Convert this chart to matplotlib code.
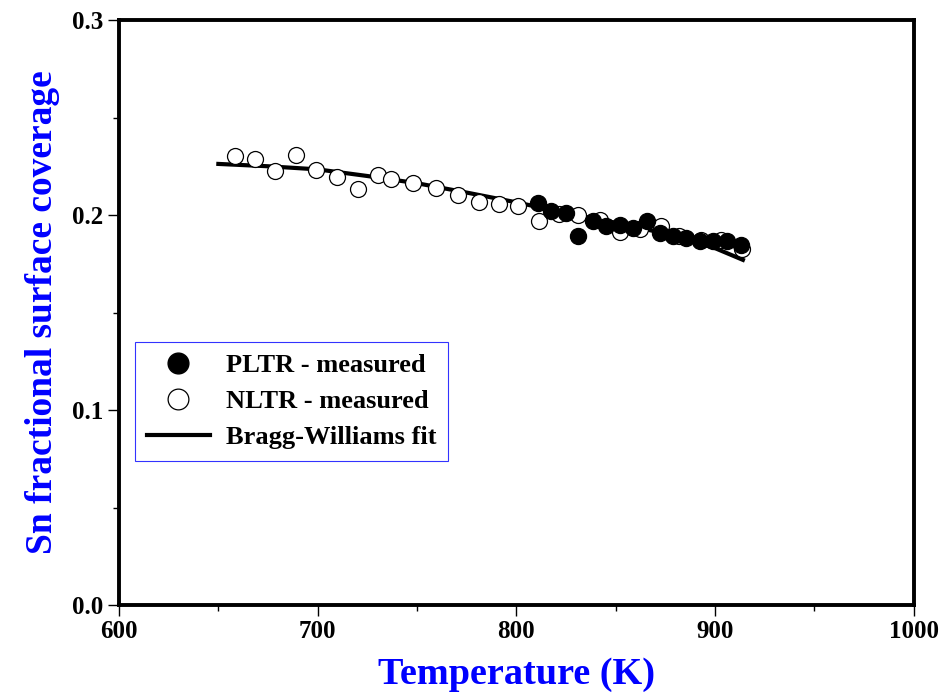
import matplotlib
matplotlib.use("Agg")
import matplotlib.pyplot as plt
from matplotlib.ticker import MultipleLocator

# PLTR - measured (filled)
pltr_T = [810.8, 817.4, 824.9, 831.0, 838.5, 845.0, 852.0, 858.6, 865.7,
          872.2, 878.7, 885.3, 892.3, 898.9, 905.9, 913.0]
pltr_cov = [0.2062, 0.2021, 0.2010, 0.1892, 0.1969, 0.1944, 0.1949, 0.1933,
            0.1969, 0.1908, 0.1892, 0.1882, 0.1867, 0.1867, 0.1867, 0.1846]

# NLTR - measured (open)
nltr_T = [658.4, 668.4, 678.5, 689.0, 699.0, 709.7, 720.3, 730.3, 736.9,
          747.9, 759.5, 770.6, 781.1, 791.2, 800.8, 811.3, 821.4, 831.2,
          842.0, 852.0, 862.0, 872.7, 882.0, 893.0, 903.0, 913.5]
nltr_cov = [0.2303, 0.2287, 0.2226, 0.2308, 0.2231, 0.2195, 0.2133, 0.2205,
            0.2185, 0.2164, 0.2138, 0.2103, 0.2067, 0.2056, 0.2046, 0.1969,
            0.2005, 0.2000, 0.1974, 0.1913, 0.1930, 0.1944, 0.1890, 0.1870,
            0.1870, 0.1825]

# Bragg-Williams fit
fit_T = [650, 675, 700, 725, 750, 775, 800, 825, 850, 875, 900, 914]
fit_cov = [0.2262, 0.2250, 0.2234, 0.2200, 0.2163, 0.2115, 0.2065, 0.2010,
           0.1960, 0.1905, 0.1830, 0.1770]

plt.rcParams['font.family'] = ['Liberation Serif', 'DejaVu Serif']
plt.rcParams['font.weight'] = 'bold'

fig = plt.figure(figsize=(9.43, 6.95), dpi=100)
ax = fig.add_axes([0.1262, 0.1295, 0.8428, 0.8417])

ax.plot(fit_T, fit_cov, color='black', lw=3, label='Bragg-Williams fit', zorder=2)
ax.plot(nltr_T, nltr_cov, 'o', mfc='white', mec='black', mew=0.9, ms=11.5,
        label='NLTR - measured', zorder=3)
ax.plot(pltr_T, pltr_cov, 'o', mfc='black', mec='black', ms=11.5,
        label='PLTR - measured', zorder=4)

ax.set_xlim(600, 1000)
ax.set_ylim(0, 0.3)
ax.xaxis.set_major_locator(MultipleLocator(100))
ax.xaxis.set_minor_locator(MultipleLocator(50))
ax.yaxis.set_major_locator(MultipleLocator(0.1))
ax.yaxis.set_minor_locator(MultipleLocator(0.05))
ax.yaxis.set_major_formatter(plt.FormatStrFormatter('%.1f'))

for s in ax.spines.values():
    s.set_linewidth(2.8)
ax.tick_params(which='major', direction='out', length=8, width=1, labelsize=18, pad=3)
ax.tick_params(which='minor', direction='out', length=4, width=1)
for lab in ax.get_xticklabels() + ax.get_yticklabels():
    lab.set_fontweight('bold')

ax.set_xlabel('Temperature (K)', fontsize=27.5, fontweight='bold', color='blue', labelpad=10)
ax.set_ylabel('Sn fractional surface coverage', fontsize=27, fontweight='bold',
              color='blue', labelpad=9)

h, l = ax.get_legend_handles_labels()
leg = ax.legend([h[2], h[1], h[0]], [l[2], l[1], l[0]],
                loc='upper left', bbox_to_anchor=(0.02, 0.45), borderaxespad=0,
                frameon=True, fancybox=False, edgecolor='blue', borderpad=0.45,
                handlelength=2.4, handletextpad=0.6, labelspacing=0.48,
                markerscale=1.3, prop={'weight': 'bold', 'size': 19})
leg.get_frame().set_linewidth(0.8)

fig.savefig('out.png', dpi=100)
